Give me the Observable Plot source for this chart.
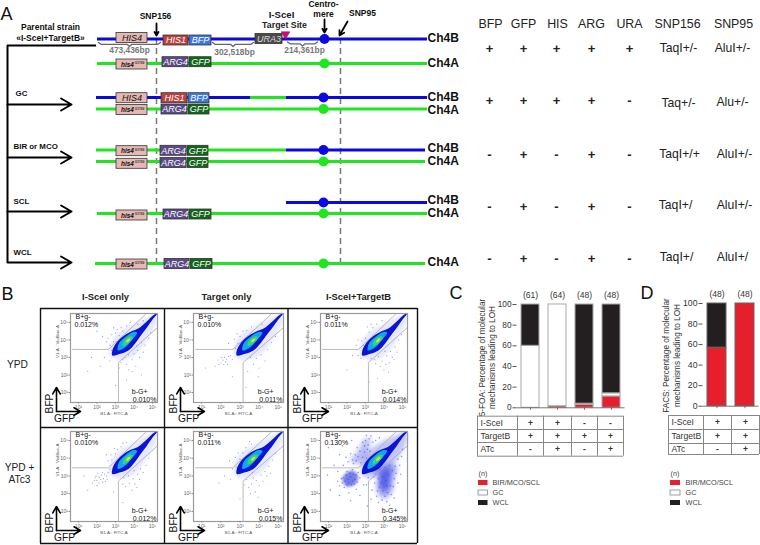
<!DOCTYPE html>
<html>
<head>
<meta charset="utf-8">
<script src="https://cdn.jsdelivr.net/npm/d3@7"></script>
<script src="https://cdn.jsdelivr.net/npm/@observablehq/plot@0.6"></script>
<style>
html,body{margin:0;padding:0;background:#fff}
#fig{position:relative;width:760px;height:545px;overflow:hidden;font-family:"Liberation Sans",Arial,sans-serif}
#fig svg{position:absolute;display:block;background:transparent;overflow:visible}
</style>
</head>
<body>
<div id="fig"></div>
<script>
// ---------- Panel A data ----------
const chromosomes = [
  [38.5,97,427,"B"],[63,97,427,"A"],
  [97,96,250,"B"],[97,250,286,"A"],[97,286,427,"B"],[108.5,96,427,"A"],
  [149.5,96,286,"A"],[149.5,286,425,"B"],[161,96,425,"A"],
  [202,286,427,"B"],[213,97,427,"A"],[263,95,425,"A"]
];
const centromeres = [[324,38.5,"B"],[324,63,"A"],[323,97,"B"],[323,108.5,"A"],[323,149.5,"B"],[323,161,"A"],[323,202,"B"],[323,213,"A"],[323,263,"A"]];
const genes = [
  ["HIS4",116,147,37.5],["HIS1",163,188,40],["BFP",189,211,40],["URA3",255,282,38.5],
  ["his4",116,147,64],["ARG4",162,188,61.7],["GFP",189,211,61.7],
  ["HIS4",116,147,97.7],["HIS1",161,187,97.7],["BFP",188,209,97.7],
  ["his4",116,147,109.5],["ARG4",161,187,109],["GFP",188,209,109],
  ["his4",116,147,150.7],["ARG4",160,186,150.3],["GFP",187,208,150.3],
  ["his4",116,147,163.3],["ARG4",160,186,162.5],["GFP",187,208,162.5],
  ["his4",116,147,215],["ARG4",163,188,214],["GFP",189,211,214],
  ["his4",116,147,264],["ARG4",164,189,263.5],["GFP",190,212,263.5]
];
const geneNames = ["HIS4","his4","HIS1","BFP","URA3","ARG4","GFP"];
const geneFills = ["#e5b8b3","#e5b8b3","#b8423f","#3f78dc","#4a4a4a","#5a4a85","#12661c"];
const geneInk = ["#111","#111","#fff","#fff","#ddd","#fff","#fff"];
const chromLabels = [["Ch4B",38],["Ch4A",63],["Ch4B",96.5],["Ch4A",109.5],["Ch4B",148],["Ch4A",161],["Ch4B",200],["Ch4A",213],["Ch4A",262]];
const braceLabels = [["473,436bp",129,50],["302,518bp",234,52],["214,361bp",304,50]];
const braceSpans = [[98,160,42],[212,253,42],[287,317,41.5]];
const pathways = [["GC",15,93,104],["BIR or MCO",13,146,157],["SCL",13,200.5,211],["WCL",13,252,262]];
const markerCols = ["BFP","GFP","HIS","ARG","URA"];
const markerColX = [489,523,556,591,629];
const headerX = [490,523,557,591,629,677,733];
const headers = [...markerCols,"SNP156","SNP95"];
const rowY = [48,100,154,206,258];
const markerRows = [
  ["+","+","+","+","+"],
  ["+","+","+","+","-"],
  ["-","+","-","+","-"],
  ["-","+","-","+","-"],
  ["-","+","-","+","-"]
];
const snp156 = [["TaqI+/-",678,48],["Taq+/-",678,103],["TaqI+/+",679,154],["TaqI+/",675,205],["TaqI+/",676,257]];
const snp95 = [["AluI+/-",732,48],["Alu+/-",732,102],["AluI+/-",734,154],["AluI+/-",734,205],["AluI+/",732,257]];

// ---------- Panel B data (log10 fluorescence) ----------
const colOrigin = [40,164,288];
const rowOrigin = [308,427];
const colHeads = [["I-SceI only",105],["Target only",226],["I-SceI+TargetB",358]];
const bgPercent = [["0.012%","0.010%","0.011%"],["0.010%","0.011%","0.130%"]];
const gbPercent = [["0.010%","0.011%","0.014%"],["0.012%","0.015%","0.345%"]];
const upperGate = [[0.68,3.46],[2.62,3.46],[4.62,5.46]];
const lowerGate = [[3.16,0.43],[3.16,2.71],[5.27,4.71]];
const contourHalo = [[2.75,3.0],[3.4,2.85],[4.1,3.2],[4.75,4.1],[5.2,5.0],[5.22,5.5],[4.6,5.25],[3.9,4.85],[3.2,4.45],[2.7,3.7]];
const contourBlue = [[2.83,3.11],[3.27,3.21],[3.7,3.4],[4.05,3.79],[4.31,4.17],[4.66,4.65],[5.01,5.18],[5.25,5.5],[5.1,5.45],[4.66,5.03],[4.23,4.65],[3.79,4.46],[3.36,4.17],[3.01,3.79],[2.83,3.4]];
const contourCyan = [[3.13,3.4],[3.53,3.59],[3.88,3.98],[4.17,4.42],[3.96,4.46],[3.53,4.17],[3.18,3.79]];
const contourGreen = [[3.4,3.65],[3.7,3.8],[3.95,4.15],[3.75,4.2],[3.45,3.95]];
const contourYellow = [[3.6,3.85],[3.75,3.95],[3.8,4.1],[3.6,3.98]];
const hazeRight = [[3.35,3.3],[3.7,3.0],[3.6,2.4],[3.75,1.9],[4.1,1.75],[4.45,2.2],[4.55,2.9],[4.7,3.5],[4.35,3.7],[3.8,3.6]];
const hazeRightCore = [[3.75,3.0],[3.85,2.3],[4.15,2.2],[4.3,2.8],[4.3,3.4],[3.95,3.4]];
const hazeLeft = [[1.75,2.8],[2.0,2.4],[2.45,2.55],[2.6,3.0],[2.3,3.3],[1.95,3.15]];
const hazeUpper = [[2.2,3.85],[2.7,3.7],[3.2,4.2],[3.2,4.75],[3.3,5.15],[2.9,5.0],[2.6,4.4]];
const hazeDiagonal = [[3.0,3.0],[4.2,3.3],[5.1,4.6],[5.25,5.4],[4.4,5.2],[3.5,4.7],[2.9,3.8]];

const scatterA1 = [[2.6,4.1],[2.8,4.3],[2.9,3.9],[3.0,4.4],[2.7,3.7],[3.1,4.6],[3.3,4.7],[2.5,3.9],[2.3,4.2],[2.9,4.7],[3.4,4.5],[3.6,4.8],[3.8,5.0],[4.2,4.9],[4.5,5.1],[3.3,2.7],[3.6,2.6],[3.9,2.9],[4.1,2.5],[3.7,2.3],[4.3,3.0],[4.5,3.3],[4.0,3.2],[3.5,3.0],[3.2,2.4],[4.6,3.7],[4.8,4.1],[4.9,4.4],[3.4,2.9],[3.9,2.2],[4.2,3.4],[2.2,2.5],[1.7,3.0],[2.4,3.0],[2.7,2.8],[1.5,2.2],[3.0,1.4],[3.6,1.7],[2.0,4.5],[4.4,2.0],[2.8,3.4],[3.05,3.9],[3.2,4.25],[3.7,3.15],[4.15,3.65],[4.4,3.85]];
const scatterA2 = [[2.1,2.85],[2.0,2.7],[2.2,3.0],[2.3,2.9],[1.9,2.6],[2.15,2.6],[2.4,3.05],[2.05,3.0],[1.85,2.85],[2.25,2.75],[2.5,3.1],[2.6,2.9],[1.7,2.5],[2.35,2.6],[2.75,3.5],[2.9,3.8],[3.0,4.2],[3.15,4.5],[2.7,4.05],[3.35,4.55],[3.6,4.75],[2.85,4.35],[3.55,3.0],[3.85,2.95],[4.1,3.15],[4.3,2.8],[3.7,2.6],[4.0,2.4],[4.45,3.45],[4.65,3.85],[4.85,4.2],[3.4,2.2],[3.95,1.9],[2.4,3.8],[1.2,2.4],[3.3,1.3],[2.6,1.9],[4.15,4.9]];
const scatterA3 = [[2.9,3.7],[3.0,4.1],[3.2,4.45],[2.8,3.95],[3.4,4.7],[3.6,4.9],[3.9,5.1],[2.6,4.0],[2.5,3.7],[3.1,4.75],[3.3,4.9],[3.5,2.9],[3.7,3.05],[3.9,2.8],[4.15,3.1],[4.35,3.35],[4.6,3.6],[4.8,4.0],[4.1,2.6],[3.8,2.5],[4.3,2.7],[4.45,3.0],[3.55,2.65],[3.3,2.95],[4.0,2.3],[4.25,2.15],[4.55,2.9],[4.7,3.3],[2.3,3.1],[2.6,3.1],[2.75,2.95],[4.95,4.3],[3.65,1.8],[3.2,1.6],[2.0,2.3],[4.05,3.35],[3.1,3.3]];
const scatterB1 = [[2.15,2.9],[2.0,2.75],[2.25,3.05],[2.35,2.85],[1.95,3.0],[2.1,2.6],[2.4,3.1],[2.05,3.15],[1.85,2.75],[2.3,2.65],[2.5,3.0],[2.2,2.8],[2.1,2.95],[1.75,2.6],[2.45,2.7],[2.0,2.45],[2.6,3.2],[2.55,2.8],[1.9,2.9],[2.3,3.2],[2.7,3.4],[2.8,3.9],[3.0,4.25],[2.6,3.85],[2.75,4.2],[3.1,4.5],[3.3,4.65],[2.5,4.2],[2.95,4.55],[3.4,4.85],[3.6,4.9],[3.45,2.9],[3.7,3.0],[3.95,2.85],[4.2,3.1],[4.35,3.4],[4.05,2.55],[3.75,2.6],[3.55,2.4],[4.3,2.8],[4.5,3.2],[4.65,3.6],[4.8,4.0],[3.9,2.2],[4.15,2.35],[3.4,2.55],[1.5,2.2],[1.3,3.0],[2.9,2.1],[3.4,1.5],[4.0,3.3]];
const scatterB2 = [[2.8,3.5],[3.0,3.95],[2.6,3.4],[3.15,4.3],[3.3,4.6],[2.75,4.05],[3.6,4.8],[2.45,3.85],[2.9,4.3],[3.5,4.95],[3.35,2.8],[3.6,2.55],[3.85,2.75],[4.1,3.05],[3.7,2.9],[4.3,3.25],[4.5,3.55],[4.0,2.45],[3.45,2.35],[3.8,2.1],[4.2,2.7],[4.4,3.0],[4.7,3.9],[3.55,2.0],[3.25,2.5],[2.5,2.8],[2.2,3.0],[1.9,2.6],[3.95,1.8],[4.6,3.15],[4.85,4.3],[3.0,1.7],[3.65,3.2]];
const scatterC2Left = [[2.08,2.8],[1.9,2.7],[2.2,2.95],[2.3,2.7],[1.8,2.9],[2.0,2.5],[2.35,3.1],[2.15,3.15],[1.75,2.6],[2.45,2.8],[2.5,3.05],[2.1,2.6],[1.95,3.05],[2.25,2.5],[1.7,2.85],[2.4,2.55],[2.55,2.65],[2.0,3.25],[1.6,2.45],[2.6,3.2],[2.7,2.9],[1.5,2.7],[2.85,3.3],[1.85,2.35],[2.3,3.35]];
const scatterC2Upper = [[2.3,3.9],[2.5,3.85],[2.75,3.75],[2.6,4.1],[2.85,4.05],[3.05,4.0],[2.95,4.35],[2.7,4.4],[3.1,4.5],[3.15,4.75],[2.95,4.7],[3.0,5.0],[3.2,5.1],[2.45,4.2],[2.2,4.25],[1.95,4.05],[3.25,4.4],[2.85,4.9],[3.4,4.9],[3.55,5.0],[3.75,5.15],[2.55,4.6],[2.35,3.7],[2.05,3.8],[1.8,3.6],[3.3,5.25],[3.05,5.3],[1.6,4.2]];
const scatterC2Right = [[3.4,3.4],[3.55,3.1],[3.7,2.85],[3.85,2.6],[3.75,2.35],[3.95,2.15],[4.05,1.85],[4.2,2.05],[4.35,2.45],[4.1,2.75],[4.25,3.05],[4.45,3.3],[4.55,2.85],[3.65,2.15],[3.9,1.65],[4.15,1.55],[3.5,2.6],[3.45,2.95],[3.8,3.35],[4.05,3.5],[4.3,3.6],[4.6,3.55],[4.75,3.95],[4.5,2.4],[4.4,1.95],[3.6,1.85],[3.35,2.2],[4.65,3.15],[4.85,3.6],[4.95,4.1],[3.95,2.95],[4.15,2.45],[3.7,1.5],[4.3,1.35],[3.3,1.7],[4.55,1.75],[4.75,2.6],[5.0,4.5],[3.05,2.5],[3.15,2.9],[3.1,3.3],[4.9,3.1]];
const scatterC2Far = [[1.3,3.6],[1.5,3.25],[1.1,2.2],[1.6,1.9],[2.2,1.6],[2.7,1.9],[2.9,2.5],[3.1,1.3],[2.5,2.25],[1.0,4.6],[1.75,4.7],[2.25,5.0],[0.95,3.05],[2.1,2.05]];
const scatterC2 = [...scatterC2Left,...scatterC2Upper,...scatterC2Right,...scatterC2Far];
const scatters = [[scatterA1,scatterA2,scatterA3],[scatterB1,scatterB2,scatterC2]];

// ---------- Panels C, D data ----------
const seriesNames = ["BIR/MCO/SCL","GC","WCL"];
const seriesColors = ["#e61f2d","#ffffff","#231f20"];
const condC = ["c1","c2","c3","c4"];
const countsC = ["(61)","(64)","(48)","(48)"];
const birC = [0,1.5,3,11];
const gcC = [60,98.5,1,3];
const wclC = [40,0,96,86];
const condD = ["d1","d2"];
const countsD = ["(48)","(48)"];
const birD = [57,100];
const gcD = [0,0];
const wclD = [43,0];
const tableRows = ["I-SceI","TargetB","ATc"];
const tableC = [["+","+","-","-"],["+","+","+","+"],["-","+","-","+"]];
const tableD = [["+","+"],["+","+"],["-","+"]];
const tableCX = [530,557,584,610];
const tableDX = [717,745];

// ---------- Drawing ----------
const fig = document.getElementById("fig");
const font = '"Liberation Sans",Arial,sans-serif';
function place(svg,left,top){svg.style.left=left+"px";svg.style.top=top+"px";fig.appendChild(svg);}
const xyPt = a=>a.map(([x,y])=>({x,y}));
const blob = (pts,fill,extra={})=>Plot.line(xyPt(pts),{x:"x",y:"y",fill,stroke:"none",curve:"catmull-rom-closed",...extra});
const sup = d=>"10"+"⁰¹²³⁴⁵"[d];

function flowPanel(r,c){
  const left = c===2?32:(c===1?29:30);
  const right = c===2?10:(c===1?5:7);
  const heavy = r===1&&c===2;
  const marks = [];
  if(heavy){
    marks.push(blob(hazeDiagonal,"#8c93f5",{fillOpacity:.4,imageFilter:"blur(2px)"}));
    marks.push(blob(hazeRight,"#4a55e8",{fillOpacity:.55,imageFilter:"blur(2.5px)"}));
    marks.push(blob(hazeRightCore,"#2230dc",{fillOpacity:.55,imageFilter:"blur(2px)"}));
    marks.push(blob(hazeLeft,"#3a46e4",{fillOpacity:.7,imageFilter:"blur(1.5px)"}));
    marks.push(blob(hazeUpper,"#6a74ee",{fillOpacity:.5,imageFilter:"blur(2.5px)"}));
  }
  marks.push(
    blob(contourHalo,"#8f96f0",{fillOpacity:.22,imageFilter:"blur(1.5px)"}),
    Plot.dot(xyPt(scatters[r][c]),{x:"x",y:"y",r:heavy?0.8:0.6,fill:"#3a46e0",fillOpacity:.55,stroke:"none"}),
    Plot.line(xyPt(upperGate),{x:"x",y:"y",stroke:"#aaa",strokeWidth:.8}),
    Plot.line(xyPt(lowerGate),{x:"x",y:"y",stroke:"#aaa",strokeWidth:.8}),
    blob(contourBlue,"#0a14d2",{imageFilter:"blur(.4px)"}),
    blob(contourCyan,"#12a6ea",{imageFilter:"blur(.5px)"}),
    blob(contourGreen,"#2fd67e",{imageFilter:"blur(.5px)"}),
    blob(contourYellow,"#e6dc3c",{imageFilter:"blur(.4px)"}),
    Plot.frame({stroke:"#9a9a9a",strokeWidth:1.2}),
    Plot.axisX({ticks:[1,2,3,4,5],tickFormat:sup,tickSize:1.5,tickPadding:1,fontSize:5,label:null,stroke:"#888",color:"#666"}),
    Plot.axisY({ticks:[1,2,3,4,5],tickFormat:sup,tickSize:1.5,tickPadding:1,fontSize:5,label:null,stroke:"#888",color:"#666"}),
    Plot.text(["B1-A:: FITC-A"],{frameAnchor:"bottom",dy:12,fontSize:4.4,fill:"#555"}),
    Plot.text(["V1-A:: VioBlue-A"],{frameAnchor:"left",rotate:-90,dx:-13,fontSize:4.4,fill:"#555"}),
    Plot.text(["B+g-"],{frameAnchor:"top-left",dx:5,dy:1,fontSize:7,fill:"#111"}),
    Plot.text([bgPercent[r][c]],{frameAnchor:"top-left",dx:4,dy:9,fontSize:7,fill:"#111"}),
    Plot.text(["b-G+"],{frameAnchor:"bottom-right",dx:-10,dy:-9,fontSize:7,fill:"#111"}),
    Plot.text([gbPercent[r][c]],{frameAnchor:"bottom-right",dx:-1,dy:-1,fontSize:7,fill:"#111"})
  );
  const w = c===2?129:124;
  const svg = Plot.plot({
    width:w,height:119,marginLeft:left,marginRight:right,marginTop:r===0?5:4,marginBottom:25,
    x:{domain:[0.57,5.27]},y:{domain:[0.43,5.51]},
    style:{fontFamily:font,background:"transparent"},
    marks
  });
  place(svg,colOrigin[c],rowOrigin[r]);
}
rowOrigin.forEach((_,r)=>colOrigin.forEach((_,c)=>flowPanel(r,c)));

function stacked(cond,counts,bir,gc,wcl,opts){
  const rows = cond.flatMap((k,i)=>[
    {cond:k,series:seriesNames[0],value:bir[i]},
    {cond:k,series:seriesNames[1],value:gc[i]},
    {cond:k,series:seriesNames[2],value:wcl[i]}
  ]);
  const svg = Plot.plot({
    width:opts.width,height:opts.height,marginLeft:opts.ml,marginRight:opts.mr,marginTop:opts.mt,marginBottom:opts.mb,
    x:{domain:cond,paddingInner:.315,paddingOuter:.1575,axis:null},
    y:{domain:[0,100]},
    color:{domain:seriesNames,range:seriesColors},
    style:{fontFamily:font,background:"transparent"},
    marks:[
      Plot.barY(rows.filter(d=>d.value>0),{x:"cond",y:"value",fill:"series",stroke:opts.barStroke,strokeWidth:1,order:seriesNames}),
      Plot.axisX({tickFormat:()=>"",tickSize:2.5,stroke:"#777",label:null}),
      Plot.axisY({ticks:[0,20,40,60,80,100],tickSize:4,tickPadding:1.5,fontSize:opts.tickFont,color:"#333",stroke:"#555",label:null}),
      Plot.ruleY([0],{stroke:"#555",strokeWidth:.8}),
      Plot.text(cond.map((k,i)=>({k,t:counts[i]})),{x:"k",y:()=>100,text:"t",dy:-9,fontSize:8.5,fill:"#333"})
    ]
  });
  place(svg,opts.left,opts.top);
}
stacked(condC,countsC,birC,gcC,wclC,{left:478,top:285,width:150,height:127,ml:38.5,mr:3.5,mt:19,mb:4.7,tickFont:8.3,barStroke:"#aaa"});
stacked(condD,countsD,birD,gcD,wclD,{left:665,top:285,width:95,height:125,ml:37.5,mr:1.5,mt:18,mb:4.3,tickFont:8.7,barStroke:"#666"});

// Overlay: diagram, text tables and panel furniture
const chromRows = chromosomes.map(([lane,from,to,allele])=>({lane,from,to,allele}));
const geneRows = genes.map(([gene,x1,x2,yc])=>({gene,x1,x2,yc}));
const braces = braceSpans.flatMap(([a,b,y],i)=>{
  const m=(a+b)/2;
  return [[a,y],[a+2.5,y+1.8],[m-2.5,y+1.8],[m,y+4],[m+2.5,y+1.8],[b-2.5,y+1.8],[b,y]].map(([x,yy])=>({x,y:yy,i}));
});
const markerCells = markerRows.flatMap((row,r)=>row.map((s,c)=>({s,x:markerColX[c],y:rowY[r]})));
const colorOfGene = d3.scaleOrdinal(geneNames,geneFills);
const inkOfGene = d3.scaleOrdinal(geneNames,geneInk);
const seriesColor = d3.scaleOrdinal(seriesNames,seriesColors);
const cellPos = rowOrigin.flatMap(ry=>colOrigin.map(cx=>({cx,ry})));

function tableMarks(xLines,yLines,labelX,cells,cellX){
  const mid = yLines.slice(0,-1).map((y,i)=>(y+yLines[i+1])/2);
  const body = cells.flatMap((row,r)=>row.map((s,c)=>({s,x:cellX[c],y:mid[r]})));
  return [
    Plot.ruleY(yLines,{x1:xLines[0],x2:xLines[xLines.length-1],stroke:"#888",strokeWidth:1}),
    Plot.ruleX(xLines,{y1:yLines[0],y2:yLines[yLines.length-1],stroke:"#888",strokeWidth:1}),
    Plot.text(tableRows,{x:()=>labelX,y:(d,i)=>mid[i],textAnchor:"start",fontSize:8.6,fill:"#333"}),
    Plot.text(body,{x:"x",y:"y",text:"s",fontSize:8.5,fontWeight:"bold",fill:"#333"})
  ];
}

const overlay = Plot.plot({
  width:760,height:545,margin:0,
  x:{domain:[0,760],axis:null},y:{domain:[545,0],axis:null},
  color:{domain:["A","B"],range:["#1fe61f","#0a0ae0"],type:"ordinal"},
  style:{fontFamily:font,background:"transparent"},
  marks:[
    Plot.text([["A",0,20],["B",1,300],["C",449,299],["D",640,299]],{x:d=>d[1],y:d=>d[2],text:d=>d[0],textAnchor:"start",lineAnchor:"bottom",fontSize:18,dy:-1,fill:"#111"}),
    Plot.ruleX([156,340],{y1:38,y2:262,stroke:"#777",strokeWidth:1.5,strokeDasharray:"6,4"}),
    Plot.ruleY(chromRows,{y:"lane",x1:"from",x2:"to",stroke:"allele",strokeWidth:3}),
    Plot.dot(centromeres,{x:d=>d[0],y:d=>d[1],r:5,fill:d=>d[2],stroke:"none"}),
    Plot.rect(geneRows,{x1:"x1",x2:"x2",y1:d=>d.yc-5,y2:d=>d.yc+5,fill:d=>colorOfGene(d.gene),stroke:"#333",strokeWidth:.8}),
    Plot.text(geneRows.filter(d=>d.gene!=="his4"),{x:d=>(d.x1+d.x2)/2,y:"yc",text:"gene",fontSize:9,fontStyle:"italic",fontWeight:d=>d.gene==="HIS4"?"normal":"bold",fill:d=>inkOfGene(d.gene)}),
    Plot.text(geneRows.filter(d=>d.gene==="his4"),{x:d=>d.x1+11,y:"yc",text:"gene",fontSize:6.4,fontStyle:"italic",fontWeight:"bold",fill:"#111"}),
    Plot.text(geneRows.filter(d=>d.gene==="his4"),{x:d=>d.x1+23,y:d=>d.yc-1.5,text:()=>"G1769",fontSize:3.2,fontWeight:"bold",fill:"#333"}),
    Plot.dot([[285,33.8]],{x:d=>d[0],y:d=>d[1],symbol:"triangle",r:3.2,rotate:180,fill:"#e6007e",stroke:"#333",strokeWidth:.5}),
    Plot.text([["Parental strain",50,27],["«I-SceI+TargetB»",50,38]],{x:d=>d[1],y:d=>d[2],text:d=>d[0],fontSize:8.5,fontWeight:"bold",fill:"#111"}),
    Plot.text([["SNP156",155,16],["SNP95",362,13],["Centro-",323,4],["mere",323,14]],{x:d=>d[1],y:d=>d[2],text:d=>d[0],fontSize:8.5,fontWeight:"bold",fill:"#111"}),
    Plot.text([["I-SceI",281,14]],{x:d=>d[1],y:d=>d[2],text:d=>d[0],fontSize:9.6,fontWeight:"bold",fill:"#222"}),
    Plot.text([["Target Site",284,25]],{x:d=>d[1],y:d=>d[2],text:d=>d[0],fontSize:8.8,fontWeight:"bold",fill:"#222"}),
    Plot.line(braces,{x:"x",y:"y",z:"i",stroke:"#666",strokeWidth:1.3}),
    Plot.text(braceLabels,{x:d=>d[1],y:d=>d[2],text:d=>d[0],fontSize:8.4,fontWeight:"bold",fill:"#777"}),
    Plot.arrow([[156,23,156,35],[324,19,324,32],[347,21,339,35]],{x1:d=>d[0],y1:d=>d[1],x2:d=>d[2],y2:d=>d[3],stroke:"#000",strokeWidth:1.8,headLength:8}),
    Plot.ruleY([45],{x1:7,x2:96,stroke:"#000",strokeWidth:2}),
    Plot.ruleX([7],{y1:45,y2:262,stroke:"#000",strokeWidth:2}),
    Plot.arrow(pathways,{x1:()=>7,x2:()=>71,y1:d=>d[3],y2:d=>d[3],stroke:"#000",strokeWidth:2,headLength:9}),
    Plot.text(pathways,{x:d=>d[1],y:d=>d[2],text:d=>d[0],textAnchor:"start",fontSize:7.9,fontWeight:"bold",fill:"#111"}),
    Plot.text(chromLabels,{x:()=>427,y:d=>d[1],text:d=>d[0],textAnchor:"start",fontSize:12,fontWeight:"bold",fill:"#111"}),
    Plot.text(headers,{x:(d,i)=>headerX[i],y:()=>24,fontSize:12.4,fill:"#222"}),
    Plot.text(markerCells,{x:"x",y:"y",text:"s",fontSize:13,fontWeight:"bold",fill:"#222"}),
    Plot.text([...snp156,...snp95],{x:d=>d[1],y:d=>d[2],text:d=>d[0],fontSize:12.2,fill:"#222"}),
    Plot.ruleX([40,164,287.5,417],{y1:308,y2:543,stroke:"#111",strokeWidth:1.4}),
    Plot.ruleY([308,427,543],{x1:40,x2:417,stroke:"#111",strokeWidth:1.4}),
    Plot.text(colHeads,{x:d=>d[1],y:()=>296,text:d=>d[0],fontSize:9.4,fontWeight:"bold",fill:"#222"}),
    Plot.text([["YPD",17,364],["YPD +",19,467],["ATc3",19,479]],{x:d=>d[1],y:d=>d[2],text:d=>d[0],fontSize:10.2,fill:"#222"}),
    Plot.arrow(cellPos,{x1:d=>d.cx+16,x2:d=>d.cx+16,y1:d=>d.ry+103,y2:d=>d.ry+79,stroke:"#000",strokeWidth:1.6,headLength:7}),
    Plot.arrow(cellPos,{x1:d=>d.cx+16,x2:d=>d.cx+40,y1:d=>d.ry+103,y2:d=>d.ry+103,stroke:"#000",strokeWidth:1.6,headLength:7}),
    Plot.text(cellPos,{x:d=>d.cx+9,y:d=>d.ry+95,text:()=>"BFP",rotate:-90,fontSize:10.2,fill:"#111"}),
    Plot.text(cellPos,{x:d=>d.cx+24,y:d=>d.ry+110,text:()=>"GFP",fontSize:10.2,fill:"#111"}),
    Plot.text([["5-FOA: Percentage of molecular",482,357],["mechanisms leading to LOH",492,357],["FACS: Percentage of molecular",666,355],["mechanisms leading to LOH",677,355]],{x:d=>d[1],y:d=>d[2],text:d=>d[0],rotate:-90,fontSize:8.2,fill:"#333"}),
    ...tableMarks([477,517,543,571,597,623],[415.7,429,442,455.7],480,tableC,tableCX),
    ...tableMarks([668,703,731,759],[415,429,443,454],671,tableD,tableDX),
    Plot.text(["(n)"],{x:()=>478,y:()=>473,textAnchor:"start",fontSize:7.2,fill:"#444"}),
    Plot.text(["(n)"],{x:()=>670,y:()=>473,textAnchor:"start",fontSize:7.2,fill:"#444"}),
    Plot.rect(seriesNames,{x1:()=>478,x2:()=>487.5,y1:(d,i)=>480+i*10,y2:(d,i)=>485+i*10,fill:d=>seriesColor(d),stroke:d=>d==="GC"?"#777":"none",strokeWidth:.7}),
    Plot.rect(seriesNames,{x1:()=>670,x2:()=>680,y1:(d,i)=>480+i*10,y2:(d,i)=>485+i*10,fill:d=>seriesColor(d),stroke:d=>d==="GC"?"#777":"none",strokeWidth:.7}),
    Plot.text(seriesNames,{x:()=>492,y:(d,i)=>482.5+i*10,textAnchor:"start",fontSize:7.3,fill:"#444"}),
    Plot.text(seriesNames,{x:()=>685,y:(d,i)=>482.5+i*10,textAnchor:"start",fontSize:7.3,fill:"#444"})
  ]
});
place(overlay,0,0);
</script>
</body>
</html>
